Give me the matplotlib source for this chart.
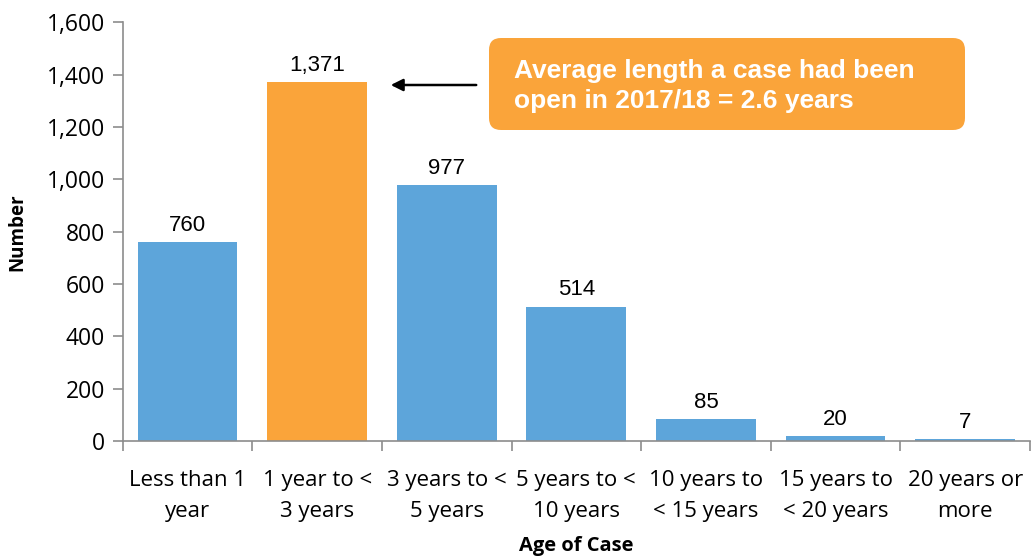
import matplotlib.pyplot as plt
from matplotlib.patches import FancyBboxPatch
import numpy as np

categories = ['Less than 1\nyear', '1 year to <\n3 years', '3 years to <\n5 years',
              '5 years to <\n10 years', '10 years to\n< 15 years', '15 years to\n< 20 years',
              '20 years or\nmore']
values = [760, 1371, 977, 514, 85, 20, 7]
highlight = 1  # the 1 to 3 year bar is orange

blue = '#5DA5DA'
orange = '#FAA43A'
axis_grey = '#8C8C8C'

fig = plt.figure(figsize=(10.32, 5.57), dpi=100)
ax = fig.add_axes([0.119, 0.208, 0.879, 0.752])

x = np.arange(len(values))
colors = [orange if i == highlight else blue for i in x]
ax.bar(x, values, width=0.77, color=colors)

for i, v in enumerate(values):
    ax.text(i, v + 24, f'{v:,}', ha='center', va='bottom', fontsize=16,
            family='Liberation Sans')

ax.set_xlim(-0.5, len(values) - 0.5)
ax.set_ylim(0, 1600)
ax.set_yticks(np.arange(0, 1601, 200))
ax.set_yticklabels([f'{t:,}' for t in range(0, 1601, 200)], fontsize=16.5, family='Open Sans')

# category labels between boundary ticks
ax.set_xticks(x)
ax.set_xticklabels(categories, fontsize=16, family='Open Sans', linespacing=1.6)
ax.tick_params(axis='x', which='major', length=0, pad=21)
ax.set_xticks(np.arange(-0.5, len(values)), minor=True)
ax.tick_params(axis='x', which='minor', length=7, color=axis_grey, width=1.2)
ax.tick_params(axis='y', length=7, color=axis_grey, width=1.2, pad=6)

for s in ['top', 'right']:
    ax.spines[s].set_visible(False)
for s in ['left', 'bottom']:
    ax.spines[s].set_color(axis_grey)
    ax.spines[s].set_linewidth(1.2)

ax.set_ylabel('Number', fontsize=13.5, fontweight='bold', family='Open Sans', labelpad=14)
ax.set_xlabel('Age of Case', fontsize=14.5, fontweight='bold', family='Open Sans', labelpad=10)

# callout box and arrow
box = FancyBboxPatch((489, 557 - 130), 476, 92, boxstyle='round,pad=0,rounding_size=12',
                     transform=None, facecolor=orange, edgecolor='none', zorder=5)
fig.patches.append(box)
fig.text(514 / 1032, 1 - 86 / 557, 'Average length a case had been\nopen in 2017/18 = 2.6 years',
         ha='left', va='center', color='white', fontsize=19, fontweight='bold',
         family='Liberation Sans', linespacing=1.3, zorder=6)
ax.annotate('', xy=(388 / 1032, 1 - 85 / 557), xytext=(479 / 1032, 1 - 85 / 557),
            xycoords='figure fraction', textcoords='figure fraction',
            arrowprops=dict(arrowstyle='-|>', color='black', lw=1.8, mutation_scale=18))

fig.savefig('out.png', dpi=100)
